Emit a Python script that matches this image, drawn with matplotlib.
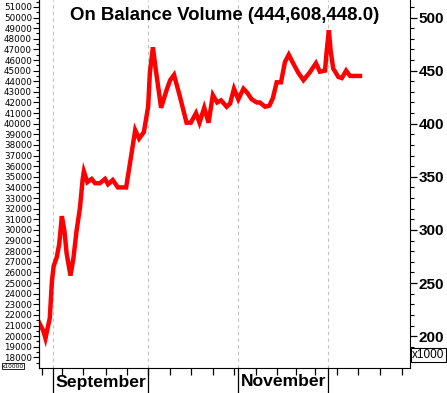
import matplotlib
matplotlib.use("Agg")
import matplotlib.pyplot as plt
import numpy as np

# trading-day index and On Balance Volume (millions)
day = [0.0, 1.0, 1.5, 2.5, 3.0, 3.4, 4.1, 4.7, 5.3, 5.9, 6.4, 7.3, 8.0, 8.7, 9.5,
       10.1, 10.4, 11.2, 12.2, 13.0, 14.1, 15.3, 16.0, 17.1, 18.3, 20.2, 21.1,
       22.3, 23.2, 24.3, 25.3, 25.7, 26.4, 27.0, 28.3, 29.6, 30.4, 31.3, 32.7,
       34.2, 35.2, 36.4, 37.2, 38.3, 39.3, 40.3, 41.3, 42.2, 43.5, 44.3, 45.2,
       46.2, 47.4, 48.3, 49.3, 50.5, 51.2, 52.4, 53.4, 54.2, 55.1, 56.1, 57.0,
       57.9, 58.9, 60.1, 61.3, 62.7, 64.2, 65.1, 66.3, 66.7, 67.2, 67.6, 68.2,
       69.4, 70.2, 71.2, 72.1, 74.4]
obv = [213, 205, 198, 217, 252, 266, 274, 287, 313, 299, 278, 257, 274, 299, 321,
       347, 355, 345, 348, 344, 344, 348, 343, 347, 340, 340, 363,
       394, 386, 392, 416, 448, 472, 453, 415, 432, 441, 446, 425,
       401, 401, 410, 401, 415, 401, 427, 420, 422, 416, 419, 433,
       423, 433, 429, 423, 420, 420, 416, 417, 424, 439, 439, 458,
       465, 457, 448, 441, 448, 457, 449, 450, 469, 488, 469, 452,
       444, 443, 450, 445, 445]

month_starts = [3.2, 25.3, 46.1, 67.0]
month_labels = {3.2: "September", 46.1: "November"}
week_ticks = [0.7, 5.3, 10.2, 15.5, 20.4, 25.3, 30.4, 35.2, 40.3, 45.2, 50.3,
              55.2, 59.6, 64.0, 69.1, 74.0, 79.0, 84.1]

fig = plt.figure(figsize=(4.47, 3.93), dpi=100)
ax = fig.add_axes([39 / 447, 25 / 393, 371 / 447, 368 / 393])

for d in month_starts:
    ax.axvline(d, color="#c0c0c0", ls=(0, (3, 3)), lw=0.8, zorder=0)
    ax.plot([d, d], [0, -25 / 368], color="black", lw=0.9,
            transform=ax.get_xaxis_transform(), clip_on=False)
for d, lab in month_labels.items():
    ax.text(d + 0.6, -14 / 368, lab, transform=ax.get_xaxis_transform(),
            ha="left", va="center", fontsize=12.6, fontweight="bold",
            family="Liberation Sans")

ax.plot(day, obv, color="#ff0000", lw=3.2, solid_joinstyle="miter")

ax.set_xlim(0, 86)
ax.set_ylim(170, 516.5)
ax.set_xticks(week_ticks)
ax.set_xticklabels([])
ax.tick_params(axis="x", direction="out", length=5, width=0.9)

ax.yaxis.tick_right()
ax.set_yticks(np.arange(200, 501, 50))
ax.set_yticks(np.arange(180, 516, 10), minor=True)
ax.tick_params(axis="y", which="major", length=5, width=0.9, labelsize=11, pad=1)
ax.tick_params(axis="y", which="minor", length=3, width=0.8)
for t in ax.get_yticklabels():
    t.set_fontweight("bold")
    t.set_family("Liberation Sans")

ax.spines["top"].set_visible(False)

left = ax.secondary_yaxis("left", functions=(lambda v: v * 100, lambda v: v / 100))
left.set_yticks(np.arange(18000, 51001, 1000))
left.set_yticks(np.arange(17500, 51600, 500), minor=True)
left.tick_params(which="major", length=4, width=0.8, labelsize=6.3, pad=1)
left.tick_params(which="minor", length=2.5, width=0.8)

ax.text(0.5, 1 - 15 / 368, "On Balance Volume (444,608,448.0)", transform=ax.transAxes,
        ha="center", va="center", fontsize=13.4, fontweight="bold",
        family="Liberation Sans")

fig.text(412 / 447, 1 - 355 / 393, "x1000", fontsize=8.5, family="Liberation Sans",
         va="center", ha="left",
         bbox=dict(boxstyle="square,pad=0.1", fc="white", ec="black", lw=0.8))
fig.text(2 / 447, 1 - 366 / 393, "x10000", fontsize=4.2, va="center", ha="left",
         bbox=dict(boxstyle="square,pad=0.05", fc="white", ec="black", lw=0.6))

fig.savefig("out.png", dpi=100)
